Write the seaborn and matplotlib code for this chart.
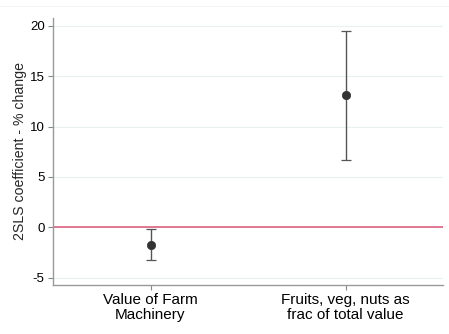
import matplotlib
matplotlib.use("Agg")
import matplotlib.pyplot as plt
import seaborn as sns
import pandas as pd
import numpy as np

categories = ["Value of Farm\nMachinery", "Fruits, veg, nuts as\nfrac of total value"]
coef = [-1.7, 13.1]
ci_low = [-3.2, 6.7]
ci_high = [-0.2, 19.5]
yticks = [-5, 0, 5, 10, 15, 20]

sns.set_theme(style="white")
plt.rcParams['font.family'] = ['Liberation Sans', 'DejaVu Sans']

df = pd.DataFrame({"cat": categories, "coef": coef, "lo": ci_low, "hi": ci_high})
df["x"] = np.arange(len(df))

fig = plt.figure(figsize=(4.49, 3.34), dpi=100)
ax = fig.add_axes([53/449, 1 - 285/334, 390/449, (285 - 18)/334])

for y in yticks:
    ax.axhline(y, color="#e8f0f2", lw=0.8, zorder=0)
ax.axhline(0, color="#dc6080", lw=1.2, zorder=1)

ax.errorbar(df["x"], df["coef"],
            yerr=[df["coef"] - df["lo"], df["hi"] - df["coef"]],
            fmt="none", ecolor="#555555", elinewidth=1.0, capsize=3.5, capthick=0.9, zorder=2)
sns.scatterplot(data=df, x="x", y="coef", ax=ax, color="#333333", s=36,
                edgecolor="#333333", linewidth=0.5, zorder=3, legend=False)

ax.set_xlim(-0.5, 1.5)
ax.set_ylim(-5.7, 20.75)
ax.set_yticks(yticks)
ax.set_yticklabels([str(v) for v in yticks], fontsize=9.5)
ax.set_xticks(df["x"])
ax.set_xticklabels(df["cat"], fontsize=11, linespacing=1.05)
ax.set_xlabel("")
ax.set_ylabel("2SLS coefficient - % change", fontsize=10.2, labelpad=2)

for s in ["top", "right"]:
    ax.spines[s].set_visible(False)
for s in ["left", "bottom"]:
    ax.spines[s].set_color("#999999")
    ax.spines[s].set_linewidth(1.0)
ax.tick_params(axis="both", which="both", direction="out", length=3.5, width=0.8,
               color="#888888", left=True, bottom=True, pad=2.5, labelcolor="black")

fig.add_artist(plt.Line2D([0, 1], [1 - 6/334, 1 - 6/334], color="#f2f2f2", lw=0.6))

fig.savefig("out.png", dpi=100, facecolor="white")
